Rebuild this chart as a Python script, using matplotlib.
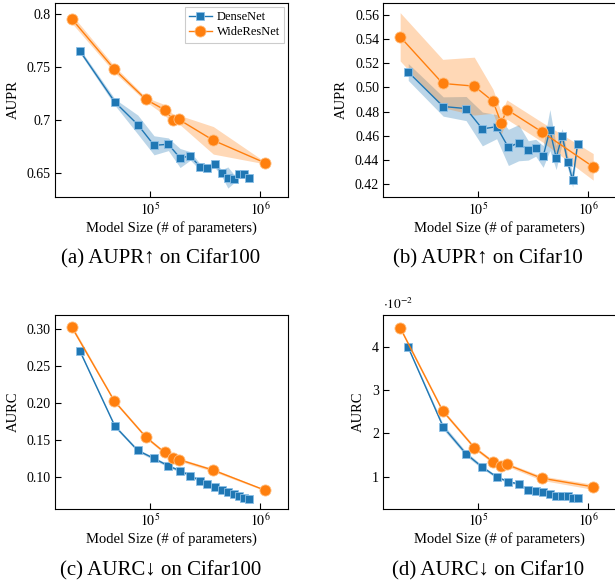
import numpy as np
import matplotlib
matplotlib.use("Agg")
import matplotlib.pyplot as plt
from matplotlib.ticker import FixedLocator, FixedFormatter, NullLocator

plt.rcParams['font.family'] = ['Liberation Serif', 'DejaVu Serif']
plt.rcParams['mathtext.fontset'] = 'stix'

BLUE = '#1f77b4'
ORANGE = '#ff7f0e'

# model sizes (# of parameters)
dense_params = [23.1e3, 48e3, 77.5e3, 109e3, 147e3, 188e3, 233e3, 285e3,
                333e3, 389e3, 448e3, 511e3, 580e3, 650e3, 722e3, 800e3]
wrn_params = [19.5e3, 47.5e3, 92e3, 136e3, 162e3, 182e3, 377e3, 1.11e6]

# (a) AUPR on Cifar100
aupr100_dense = [0.765, 0.7168, 0.6956, 0.676, 0.677, 0.664, 0.666, 0.6557,
                 0.655, 0.658, 0.650, 0.6456, 0.6446, 0.649, 0.649, 0.6456]
aupr100_dense_std = [0.002, 0.003, 0.009, 0.009, 0.006, 0.009, 0.004, 0.003,
                     0.003, 0.003, 0.003, 0.010, 0.004, 0.003, 0.004, 0.002]
aupr100_wrn = [0.7953, 0.7478, 0.7193, 0.7095, 0.7003, 0.7006, 0.6807, 0.6595]
aupr100_wrn_std = [0.004, 0.003, 0.002, 0.005, 0.005, 0.004, 0.013, 0.001]

# (b) AUPR on Cifar10
aupr10_dense = [0.5128, 0.4842, 0.4825, 0.4656, 0.4675, 0.4503, 0.4542, 0.4478,
                0.450, 0.4428, 0.4647, 0.4419, 0.460, 0.4383, 0.4233, 0.4531]
aupr10_dense_std = [0.007, 0.008, 0.010, 0.014, 0.010, 0.015, 0.015, 0.008,
                    0.007, 0.009, 0.017, 0.010, 0.006, 0.005, 0.006, 0.002]
aupr10_wrn = [0.542, 0.5033, 0.5011, 0.4886, 0.4703, 0.4817, 0.4633, 0.4342]
aupr10_wrn_std = [0.020, 0.020, 0.024, 0.010, 0.009, 0.008, 0.008, 0.011]

# (c) AURC on Cifar100
aurc100_dense = [0.2698, 0.1685, 0.1356, 0.1248, 0.1149, 0.108, 0.1018, 0.0946,
                 0.0905, 0.0856, 0.082, 0.0793, 0.0766, 0.074, 0.0716, 0.0707]
aurc100_dense_std = [0.002] * 16
aurc100_wrn = [0.3023, 0.2023, 0.1536, 0.1329, 0.1261, 0.1234, 0.109, 0.082]
aurc100_wrn_std = [0.003, 0.002, 0.002, 0.002, 0.002, 0.002, 0.002, 0.001]

# (d) AURC on Cifar10 (x 1e-2)
aurc10_dense = [3.985, 2.149, 1.524, 1.216, 0.992, 0.877, 0.830, 0.684,
                0.668, 0.638, 0.591, 0.553, 0.553, 0.545, 0.507, 0.499]
aurc10_dense_std = [0.03, 0.06, 0.05, 0.04, 0.03, 0.03, 0.02, 0.02,
                    0.02, 0.02, 0.02, 0.02, 0.02, 0.02, 0.02, 0.02]
aurc10_wrn = [4.44, 2.52, 1.67, 1.34, 1.247, 1.278, 0.962, 0.761]
aurc10_wrn_std = [0.04, 0.04, 0.04, 0.04, 0.04, 0.04, 0.05, 0.06]

panels = [
    dict(dense=aupr100_dense, dstd=aupr100_dense_std, wrn=aupr100_wrn, wstd=aupr100_wrn_std,
         ylabel='AUPR', ylim=(0.6272, 0.8104),
         yticks=[0.65, 0.7, 0.75, 0.8], ylabels=['0.65', '0.7', '0.75', '0.8'],
         caption='(a) AUPR↑ on Cifar100'),
    dict(dense=aupr10_dense, dstd=aupr10_dense_std, wrn=aupr10_wrn, wstd=aupr10_wrn_std,
         ylabel='AUPR', ylim=(0.4092, 0.570),
         yticks=[0.42, 0.44, 0.46, 0.48, 0.50, 0.52, 0.54, 0.56],
         ylabels=['0.42', '0.44', '0.46', '0.48', '0.50', '0.52', '0.54', '0.56'],
         caption='(b) AUPR↑ on Cifar10'),
    dict(dense=aurc100_dense, dstd=aurc100_dense_std, wrn=aurc100_wrn, wstd=aurc100_wrn_std,
         ylabel='AURC', ylim=(0.0572, 0.3194),
         yticks=[0.10, 0.15, 0.20, 0.25, 0.30],
         ylabels=['0.10', '0.15', '0.20', '0.25', '0.30'],
         caption='(c) AURC↓ on Cifar100'),
    dict(dense=aurc10_dense, dstd=aurc10_dense_std, wrn=aurc10_wrn, wstd=aurc10_wrn_std,
         ylabel='AURC', ylim=(0.26, 4.748),
         yticks=[1, 2, 3, 4], ylabels=['1', '2', '3', '4'],
         caption='(d) AURC↓ on Cifar10'),
]

W, H = 615, 586
fig = plt.figure(figsize=(W / 100, H / 100), dpi=100)

# axes boxes in pixels: left, top
boxes = [(55, 3), (383.3, 3), (55, 314.5), (383.3, 314.5)]
ax_w, ax_h = 233, 194
cap_x = [161, 488]

for i, (p, (l, t)) in enumerate(zip(panels, boxes)):
    ax = fig.add_axes([l / W, 1 - (t + ax_h) / H, ax_w / W, ax_h / H])
    xd = np.array(dense_params)
    xw = np.array(wrn_params)
    d, ds = np.array(p['dense']), np.array(p['dstd'])
    w, ws = np.array(p['wrn']), np.array(p['wstd'])

    ax.fill_between(xd, d - ds, d + ds, color=BLUE, alpha=0.3, lw=0)
    ax.fill_between(xw, w - ws, w + ws, color=ORANGE, alpha=0.3, lw=0)
    ax.plot(xd, d, color=BLUE, lw=1.0, marker='s', ms=6.2,
            mec=(0.55, 0.75, 0.9), mew=0.6, label='DenseNet')
    ax.plot(xw, w, color=ORANGE, lw=1.0, marker='o', ms=8,
            mec=(1.0, 0.75, 0.5), mew=0.6, label='WideResNet')

    ax.set_xscale('log')
    ax.set_xlim(1.37e4, 1.8e6)
    ax.set_ylim(*p['ylim'])
    ax.xaxis.set_major_locator(FixedLocator([1e5, 1e6]))
    ax.xaxis.set_major_formatter(FixedFormatter(['$10^5$', '$10^6$']))
    ax.xaxis.set_minor_locator(NullLocator())
    ax.yaxis.set_major_locator(FixedLocator(p['yticks']))
    ax.yaxis.set_major_formatter(FixedFormatter(p['ylabels']))
    ax.yaxis.set_minor_locator(NullLocator())
    ax.tick_params(direction='in', length=4, width=0.8, labelsize=10, pad=3,
                   top=False, right=False)
    ax.set_ylabel(p['ylabel'], fontsize=10.5, labelpad=5)
    ax.set_xlabel('Model Size (# of parameters)', fontsize=10.5, labelpad=2)

    if i == 0:
        leg = ax.legend(loc='upper right', fontsize=9, handlelength=1.8,
                        borderaxespad=0.3, fancybox=False, framealpha=1,
                        handletextpad=0.4, borderpad=0.35, labelspacing=0.25)
        leg.get_frame().set_edgecolor('#cccccc')
        leg.get_frame().set_linewidth(0.8)
    if i == 3:
        ax.text(0.0, 1.015, r'$\cdot10^{-2}$', transform=ax.transAxes,
                ha='left', va='bottom', fontsize=9.5)

    cy = t + ax_h + 62
    fig.text(cap_x[i % 2] / W, 1 - cy / H, p['caption'], ha='center', va='center',
             fontsize=15)

fig.savefig('out.png', dpi=100)
